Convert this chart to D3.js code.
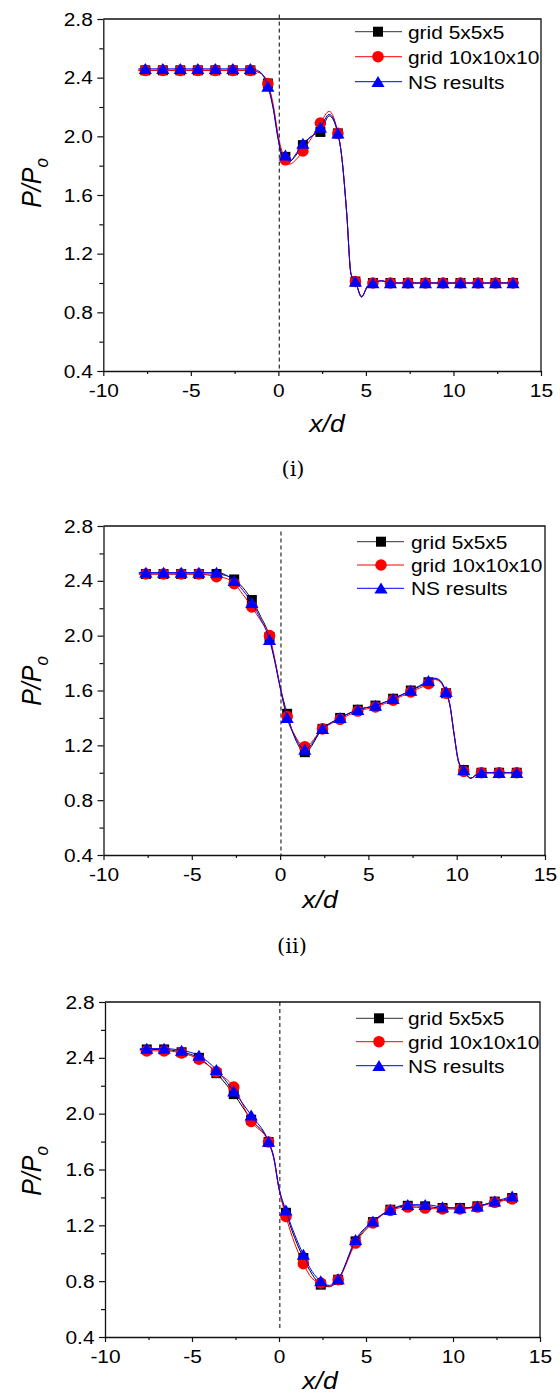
<!DOCTYPE html>
<html>
<head>
<meta charset="utf-8">
<script src="https://cdn.jsdelivr.net/npm/d3@7"></script>
<style>
  body { margin: 0; background: #fff; }
</style>
</head>
<body>
<div id="chart"></div>
<script>
// x/d positions of the plotted symbols (same in all three panels)
const markerX = [-7.6, -6.6, -5.6, -4.6, -3.6, -2.6, -1.6, -0.6, 0.4, 1.4, 2.4,
                 3.4, 4.4, 5.4, 6.4, 7.4, 8.4, 9.4, 10.4, 11.4, 12.4, 13.4];
const xTicks = [-10, -5, 0, 5, 10, 15];
const xMinor = [-7.5, -2.5, 2.5, 7.5, 12.5];
const yTicks = [0.4, 0.8, 1.2, 1.6, 2.0, 2.4, 2.8];
const yMinor = [0.6, 1.0, 1.4, 1.8, 2.2, 2.6];
const seriesNames = ["grid 5x5x5", "grid 10x10x10", "NS results"];
const panelLabels = ["(i)", "(ii)", ""];

// panel (i): symbol values
const p1Black = [2.45, 2.45, 2.45, 2.45, 2.45, 2.45, 2.45, 2.36, 1.86, 1.94, 2.03,
                 2.02, 1.01, 1.0, 1.0, 1.0, 1.0, 1.0, 1.0, 1.0, 1.0, 1.0];
const p1Red   = [2.45, 2.45, 2.45, 2.45, 2.45, 2.45, 2.45, 2.36, 1.84, 1.90, 2.09,
                 2.02, 1.01, 1.0, 1.0, 1.0, 1.0, 1.0, 1.0, 1.0, 1.0, 1.0];
const p1Blue  = [2.46, 2.46, 2.46, 2.46, 2.46, 2.46, 2.46, 2.34, 1.87, 1.95, 2.06,
                 2.02, 1.01, 1.0, 1.0, 1.0, 1.0, 1.0, 1.0, 1.0, 1.0, 1.0];
// panel (i): extra points of the curves between the symbols
const p1CurveX     = [-8.0, -1.2, -0.9, -0.3, 0.0, 0.2, 0.65, 1.0, 2.0, 2.9, 3.6, 3.9, 4.15, 4.75, 5.1, 5.9, 13.7];
const p1CurveBlack = [2.45, 2.44, 2.42, 2.20, 1.98, 1.88, 1.83, 1.87, 2.01, 2.14, 1.88, 1.48, 1.06, 0.905, 0.98, 1.015, 1.0];
const p1CurveRed   = [2.45, 2.44, 2.42, 2.22, 2.00, 1.90, 1.81, 1.84, 2.01, 2.17, 1.88, 1.48, 1.06, 0.91, 0.98, 1.015, 1.0];
const p1CurveBlue  = [2.46, 2.45, 2.42, 2.19, 1.97, 1.87, 1.83, 1.88, 2.01, 2.15, 1.88, 1.48, 1.06, 0.905, 0.98, 1.015, 1.0];

// panel (ii)
const p2Black = [2.45, 2.45, 2.45, 2.45, 2.45, 2.41, 2.26, 1.99, 1.43, 1.15, 1.32,
                 1.40, 1.46, 1.49, 1.54, 1.60, 1.66, 1.58, 1.02, 1.0, 1.0, 1.0];
const p2Red   = [2.45, 2.45, 2.45, 2.45, 2.43, 2.38, 2.21, 2.00, 1.41, 1.19, 1.32,
                 1.39, 1.45, 1.48, 1.53, 1.59, 1.65, 1.58, 1.01, 1.0, 1.0, 1.0];
const p2Blue  = [2.46, 2.46, 2.46, 2.46, 2.46, 2.40, 2.24, 1.97, 1.40, 1.17, 1.32,
                 1.40, 1.46, 1.49, 1.54, 1.60, 1.67, 1.59, 1.02, 1.0, 1.0, 1.0];
const p2CurveX     = [-8.0, -3.1, -2.1, -1.1, -0.3, 0.0, 0.85, 8.75, 9.05, 9.6, 9.85, 10.1, 10.8, 11.1, 13.7];
const p2CurveBlack = [2.45, 2.44, 2.35, 2.14, 1.82, 1.63, 1.25, 1.685, 1.67, 1.50, 1.28, 1.08, 0.96, 0.985, 1.0];
const p2CurveRed   = [2.45, 2.42, 2.30, 2.11, 1.83, 1.63, 1.27, 1.68, 1.665, 1.50, 1.28, 1.08, 0.96, 0.985, 1.0];
const p2CurveBlue  = [2.46, 2.445, 2.33, 2.12, 1.81, 1.62, 1.26, 1.69, 1.675, 1.51, 1.29, 1.09, 0.96, 0.985, 1.0];

// panel (iii)
const p3Black = [2.46, 2.46, 2.44, 2.40, 2.29, 2.14, 1.957, 1.797, 1.29, 0.966, 0.775,
                 0.81, 1.085, 1.223, 1.312, 1.34, 1.336, 1.324, 1.324, 1.336, 1.37, 1.396];
const p3Red   = [2.45, 2.45, 2.435, 2.39, 2.30, 2.19, 1.945, 1.797, 1.264, 0.925, 0.787,
                 0.81, 1.073, 1.217, 1.307, 1.331, 1.324, 1.317, 1.317, 1.331, 1.365, 1.389];
const p3Blue  = [2.466, 2.466, 2.453, 2.416, 2.315, 2.16, 1.988, 1.80, 1.307, 0.99, 0.80,
                 0.815, 1.097, 1.229, 1.312, 1.348, 1.348, 1.331, 1.324, 1.336, 1.372, 1.408];
const p3CurveX     = [-8.0, -0.3, 0.0, 1.9, 2.9, 13.7];
const p3CurveBlack = [2.46, 1.68, 1.46, 0.85, 0.76, 1.41];
const p3CurveRed   = [2.45, 1.68, 1.46, 0.82, 0.765, 1.40];
const p3CurveBlue  = [2.465, 1.69, 1.47, 0.87, 0.77, 1.42];

// dashed reference line at x/d = 0 (start and end values)
const refX = 0.05;
const p1Ref = [2.83, 0.4];
const p2Ref = [2.76, 0.4];
const p3Ref = [2.8, 0.45];

const SX = 1.1;   // the source figure is stretched a little sideways
const FONT = "Arial, 'Liberation Sans', sans-serif";

const shapes = {
  square: "M-5,-5h10v10h-10z",
  circle: d3.symbol(d3.symbolCircle, Math.PI * 5.8 * 5.8)(),
  triangle: "M0,-5.8L6.6,5.2L-6.6,5.2Z"
};
const styles = [
  { color: "#000000", shape: "square", legendLine: "#333" },
  { color: "#ff0000", shape: "circle", legendLine: "#ff0000" },
  { color: "#0000ff", shape: "triangle", legendLine: "#0000ff" }
];

const svg = d3.select("#chart").append("svg")
  .attr("width", 560)
  .attr("height", 1394)
  .style("background", "#fff");

const panels = [
  { left: 103.3, right: 541, top: 19, bottom: 371,
    values: [p1Black, p1Red, p1Blue], curveX: p1CurveX, curves: [p1CurveBlack, p1CurveRed, p1CurveBlue], ref: p1Ref,
    legend: { x0: 355, x1: 402, m: 378, tx: 408, rows: [31.7, 56.7, 81.7] },
    ylab: [41, 183], xlab: [327, 432], plab: [293, 476] },
  { left: 103.5, right: 545, top: 526, bottom: 855,
    values: [p2Black, p2Red, p2Blue], curveX: p2CurveX, curves: [p2CurveBlack, p2CurveRed, p2CurveBlue], ref: p2Ref,
    legend: { x0: 357, x1: 404, m: 381, tx: 411, rows: [541.7, 565, 588.3] },
    ylab: [41, 681], xlab: [320, 908], plab: [292, 953] },
  { left: 105, right: 540, top: 1002, bottom: 1337,
    values: [p3Black, p3Red, p3Blue], curveX: p3CurveX, curves: [p3CurveBlack, p3CurveRed, p3CurveBlue], ref: p3Ref,
    legend: { x0: 356, x1: 403, m: 379, tx: 408, rows: [1018.3, 1041.7, 1065.7] },
    ylab: [41, 1171], xlab: [320, 1389], plab: [292, 1430] }
];

panels.forEach((p, pi) => {
  const x = d3.scaleLinear().domain([-10, 15]).range([p.left, p.right]);
  const y = d3.scaleLinear().domain([0.4, 2.8]).range([p.bottom, p.top]);
  const g = svg.append("g");

  // minor ticks
  g.append("g")
    .attr("transform", `translate(0,${p.bottom})`)
    .call(d3.axisBottom(x).tickValues(xMinor).tickSize(3).tickFormat("").tickSizeOuter(0))
    .call(s => s.select(".domain").remove());
  g.append("g")
    .attr("transform", `translate(${p.left},0)`)
    .call(d3.axisLeft(y).tickValues(yMinor).tickSize(4).tickFormat("").tickSizeOuter(0))
    .call(s => s.select(".domain").remove());

  // major axes
  const xa = g.append("g")
    .attr("transform", `translate(0,${p.bottom})`)
    .call(d3.axisBottom(x).tickValues(xTicks).tickSize(5).tickPadding(8).tickSizeOuter(0).tickFormat(d => String(d)));
  xa.selectAll("text")
    .attr("transform", `scale(${SX},1)`)
    .style("font-family", FONT).style("font-size", "19px").attr("fill", "#000");

  const ya = g.append("g")
    .attr("transform", `translate(${p.left},0)`)
    .call(d3.axisLeft(y).tickValues(yTicks).tickSize(6).tickSizeOuter(0).tickFormat(d3.format(".1f")));
  ya.selectAll("text")
    .attr("x", -10.5 / SX)
    .attr("transform", `scale(${SX},1)`)
    .style("font-family", FONT).style("font-size", "19px").attr("fill", "#000");

  g.selectAll(".domain").attr("stroke", "#111").attr("stroke-width", 1.3);
  g.selectAll(".tick line").attr("stroke", "#111").attr("stroke-width", 1.2);

  // top and right frame
  g.append("path")
    .attr("d", `M${p.left},${p.top}H${p.right}V${p.bottom}`)
    .attr("fill", "none").attr("stroke", "#111").attr("stroke-width", 1.3);

  // dashed reference line
  g.append("line")
    .attr("x1", x(refX)).attr("x2", x(refX))
    .attr("y1", y(p.ref[0])).attr("y2", y(p.ref[1]))
    .attr("stroke", "#000").attr("stroke-width", 1)
    .attr("stroke-dasharray", "4,3");

  const line = d3.line()
    .x(d => x(d[0]))
    .y(d => y(d[1]))
    .curve(d3.curveMonotoneX);

  styles.forEach((s, si) => {
    const marks = markerX.map((xv, i) => [xv, p.values[si][i]]);
    const pts = marks.concat(p.curveX.map((xv, i) => [xv, p.curves[si][i]]))
      .sort((a, b) => a[0] - b[0]);

    g.append("path")
      .attr("d", line(pts))
      .attr("fill", "none")
      .attr("stroke", s.color)
      .attr("stroke-width", 1);

    g.append("g").selectAll("path")
      .data(marks)
      .join("path")
      .attr("d", shapes[s.shape])
      .attr("transform", d => `translate(${x(d[0])},${y(d[1])})`)
      .attr("fill", s.color);

    // legend entry
    const ly = p.legend.rows[si];
    g.append("line")
      .attr("x1", p.legend.x0).attr("x2", p.legend.x1)
      .attr("y1", ly).attr("y2", ly)
      .attr("stroke", s.legendLine).attr("stroke-width", 1);
    g.append("path")
      .attr("d", shapes[s.shape])
      .attr("transform", `translate(${p.legend.m},${ly})`)
      .attr("fill", s.color);
    g.append("text")
      .attr("transform", `translate(${p.legend.tx},${ly}) scale(${SX},1)`)
      .attr("dy", "0.36em")
      .style("font-family", FONT).style("font-size", "19px")
      .text(seriesNames[si]);
  });

  // axis titles
  const yl = g.append("text")
    .attr("transform", `translate(${p.ylab[0]},${p.ylab[1]}) scale(${SX},1) rotate(-90)`)
    .attr("text-anchor", "middle")
    .style("font-family", FONT).style("font-style", "italic").style("font-size", "25px");
  yl.append("tspan").text("P/P");
  yl.append("tspan").attr("dy", "0.35em").style("font-size", "17px").text("o");

  g.append("text")
    .attr("transform", `translate(${p.xlab[0]},${p.xlab[1]}) scale(1.15,1)`)
    .attr("text-anchor", "middle")
    .style("font-family", FONT).style("font-style", "italic").style("font-size", "23px")
    .text("x/d");

  if (panelLabels[pi]) {
    g.append("text")
      .attr("x", p.plab[0]).attr("y", p.plab[1])
      .attr("text-anchor", "middle")
      .style("font-family", "'DejaVu Serif', 'Liberation Serif', serif")
      .style("font-size", "21px")
      .text(panelLabels[pi]);
  }
});
</script>
</body>
</html>
